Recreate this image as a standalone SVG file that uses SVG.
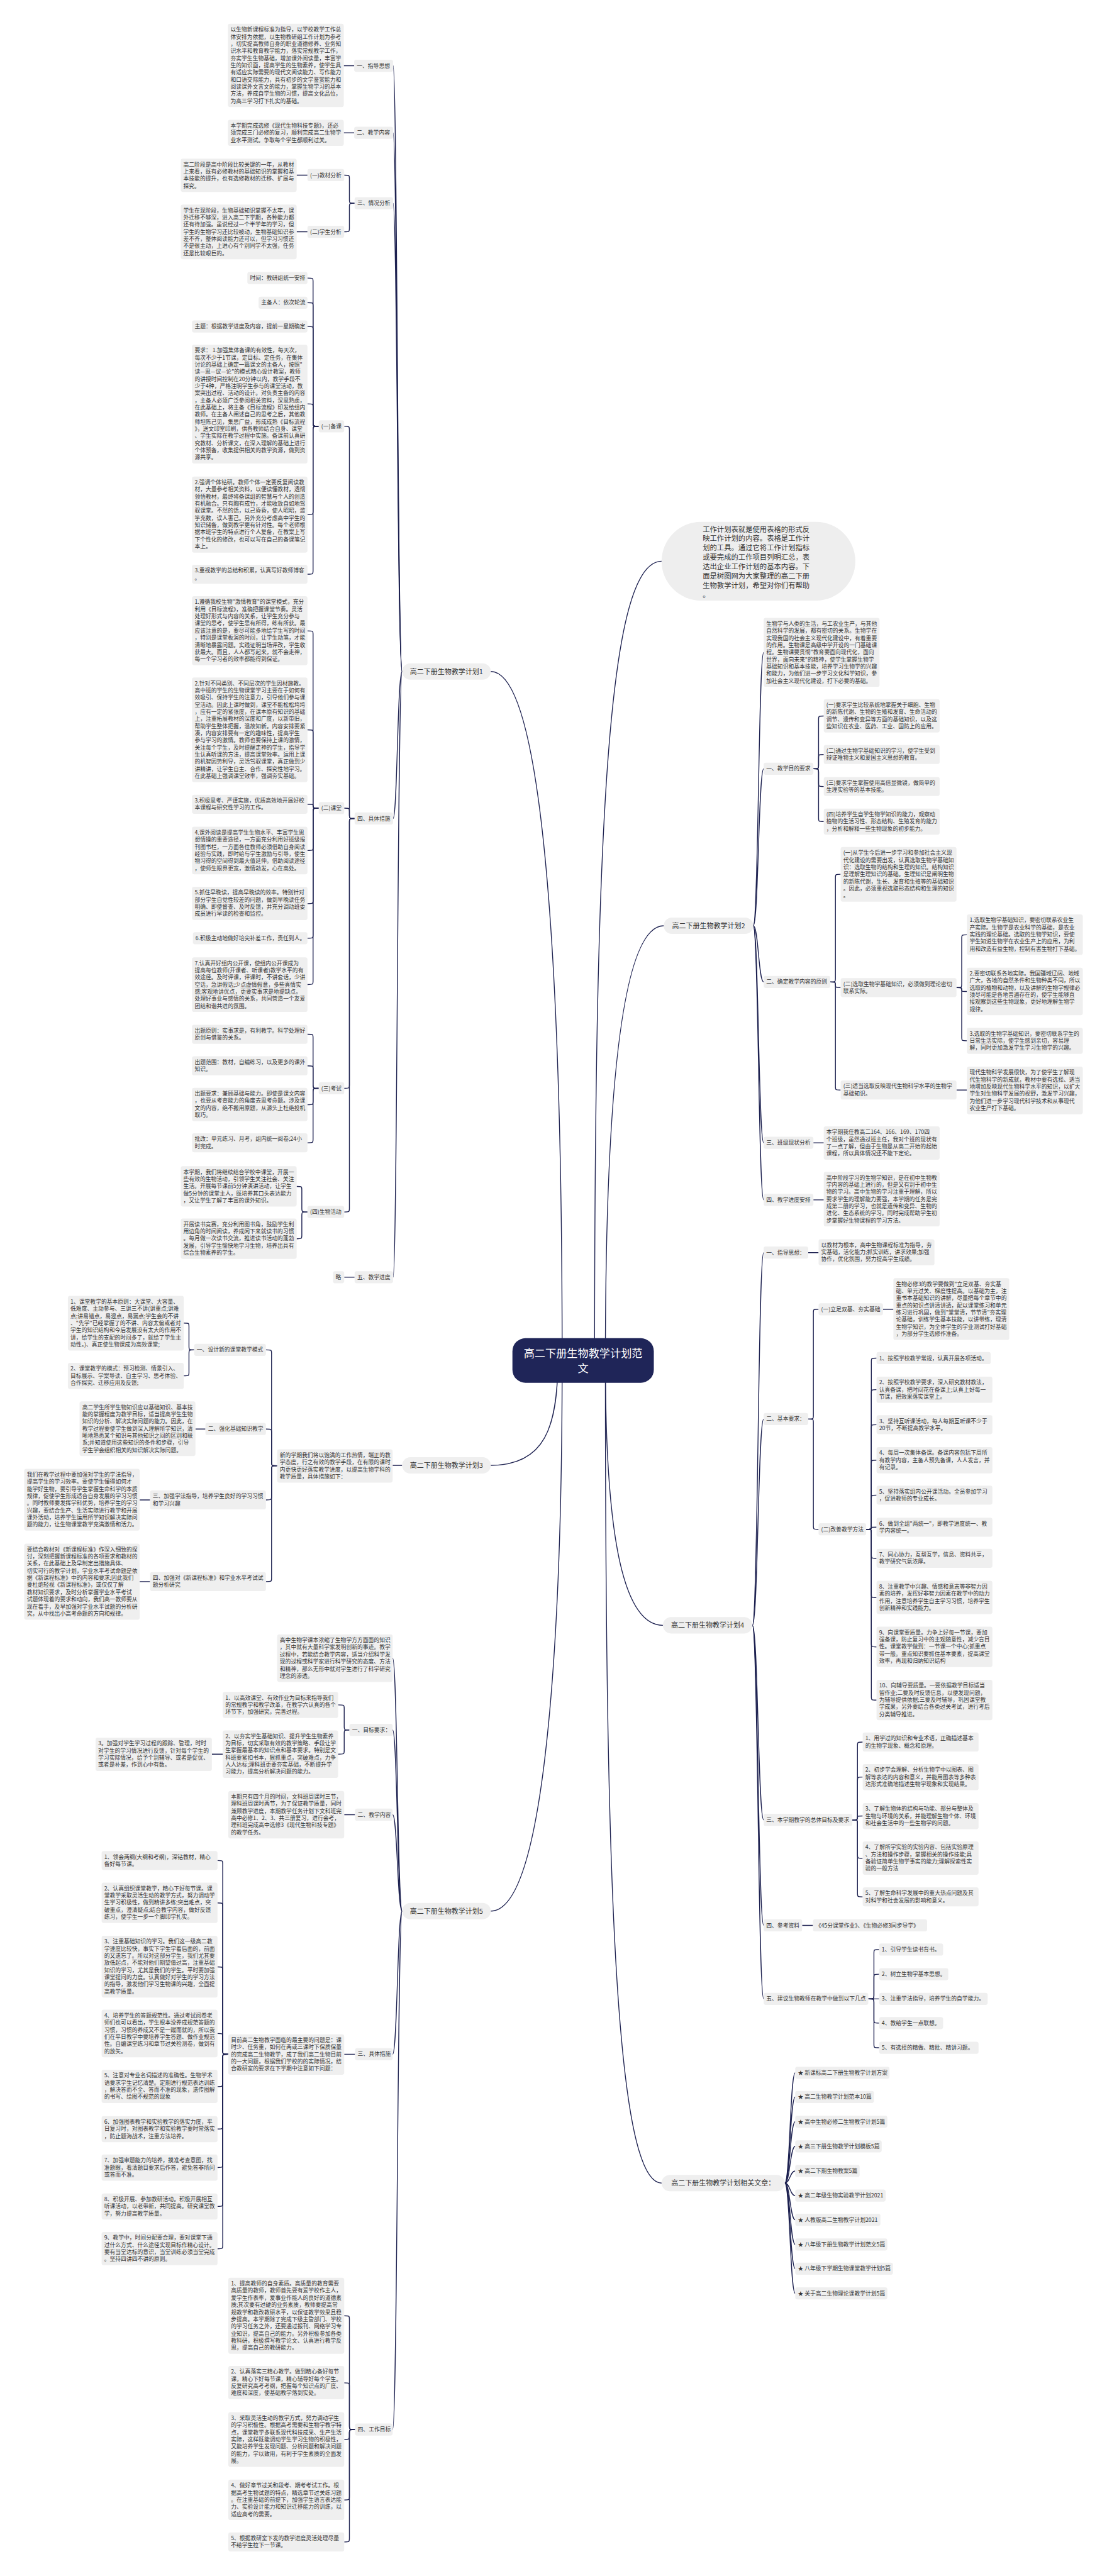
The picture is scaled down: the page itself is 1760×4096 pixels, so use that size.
<svg xmlns="http://www.w3.org/2000/svg" width="1760" height="4096" viewBox="0 0 1760 4096">
<style>
.c{fill:none;stroke:#1d2150;stroke-width:2}
.b{fill:#efefef}
.t{font-family:"Noto Sans CJK SC","Noto Sans",sans-serif;font-size:12.8px;fill:#333}
.bt{font-family:"Noto Sans CJK SC","Noto Sans",sans-serif;font-size:16px;fill:#333}
.it{font-family:"Noto Sans CJK SC","Noto Sans",sans-serif;font-size:16.5px;fill:#333}
.rt{font-family:"Noto Sans CJK SC","Noto Sans",sans-serif;font-size:25px;fill:#fff}
</style>
<rect width="1760" height="4096" fill="#fff"/>
<g transform="scale(0.6875)">
<g id="connectors">
<path class="c" d="M1530 1298C1410 1298 1375 1850 1375 3146"/>
<path class="c" d="M1535 2141C1430 2141 1400 2600 1400 3146"/>
<path class="c" d="M1533 3759C1430 3759 1400 3500 1400 3146"/>
<path class="c" d="M1530 5049C1420 5049 1400 4300 1400 3146"/>
<path class="c" d="M1135 1553C1270 1553 1300 2400 1300 3146"/>
<path class="c" d="M1135 3389C1260 3389 1290 3300 1290 3146"/>
<path class="c" d="M1135 4420C1270 4420 1300 3700 1300 3146"/>
<path class="c" d="M930 1553C919 1553 919 152 909 152"/>
<path class="c" d="M930 1553C919 1553 919 307 909 307"/>
<path class="c" d="M930 1553C919 1553 919 470 909 470"/>
<path class="c" d="M930 1553C919 1553 919 1893 909 1893"/>
<path class="c" d="M930 1553C919 1553 919 2954 909 2954"/>
<path class="c" d="M819 152H795M819 307H795M711 405H686M711 536H686M820 2954H796"/>
<path class="c" d="M820 470C808 470 808 470 808 462V413C808 405 808 405 796 405"/>
<path class="c" d="M820 470C808 470 808 470 808 478V528C808 536 808 536 796 536"/>
<path class="c" d="M820 1893C808 1893 808 1893 808 1885V994C808 986 808 986 796 986"/>
<path class="c" d="M820 1893C808 1893 808 1893 808 1885V1877C808 1869 808 1869 796 1869"/>
<path class="c" d="M820 1893C808 1893 808 1893 808 1901V2509C808 2517 808 2517 796 2517"/>
<path class="c" d="M820 1893C808 1893 808 1893 808 1901V2795C808 2803 808 2803 796 2803"/>
<path class="c" d="M737 986C724 986 724 986 724 978V651C724 643 724 643 711 643"/>
<path class="c" d="M737 986C724 986 724 986 724 978V708C724 700 724 700 711 700"/>
<path class="c" d="M737 986C724 986 724 986 724 978V763C724 755 724 755 711 755"/>
<path class="c" d="M737 986C724 986 724 986 724 978V942C724 934 724 934 711 934"/>
<path class="c" d="M737 986C724 986 724 986 724 994V1182C724 1190 724 1190 711 1190"/>
<path class="c" d="M737 986C724 986 724 986 724 994V1320C724 1328 724 1328 711 1328"/>
<path class="c" d="M737 1869C724 1869 724 1869 724 1861V1467C724 1459 724 1459 711 1459"/>
<path class="c" d="M737 1869C724 1869 724 1869 724 1861V1696C724 1688 724 1688 711 1688"/>
<path class="c" d="M737 1869C724 1869 724 1869 724 1864.5C724 1860 724 1860 711 1860"/>
<path class="c" d="M737 1869C724 1869 724 1869 724 1877V1959C724 1967 724 1967 711 1967"/>
<path class="c" d="M737 1869C724 1869 724 1869 724 1877V2082C724 2090 724 2090 711 2090"/>
<path class="c" d="M737 1869C724 1869 724 1869 724 1877V2162C724 2170 724 2170 711 2170"/>
<path class="c" d="M737 1869C724 1869 724 1869 724 1877V2269C724 2277 724 2277 711 2277"/>
<path class="c" d="M737 2517C724 2517 724 2517 724 2509V2400C724 2392 724 2392 711 2392"/>
<path class="c" d="M737 2517C724 2517 724 2517 724 2509V2473C724 2465 724 2465 711 2465"/>
<path class="c" d="M737 2517C724 2517 724 2517 724 2525V2547C724 2555 724 2555 711 2555"/>
<path class="c" d="M737 2517C724 2517 724 2517 724 2525V2635C724 2643 724 2643 711 2643"/>
<path class="c" d="M711 2803C698 2803 698 2803 698 2795V2752C698 2744 698 2744 686 2744"/>
<path class="c" d="M711 2803C698 2803 698 2803 698 2811V2857C698 2865 698 2865 686 2865"/>
<path class="c" d="M930 3389H908M475 3305H452M347 3469H323M347 3658H323"/>
<path class="c" d="M641 3390C628 3390 628 3390 628 3382V3130C628 3122 628 3122 615 3122"/>
<path class="c" d="M641 3390C628 3390 628 3390 628 3382V3313C628 3305 628 3305 615 3305"/>
<path class="c" d="M641 3390C628 3390 628 3390 628 3398V3461C628 3469 628 3469 615 3469"/>
<path class="c" d="M641 3390C628 3390 628 3390 628 3398V3650C628 3658 628 3658 615 3658"/>
<path class="c" d="M449 3122C437 3122 437 3122 437 3114V3068C437 3060 437 3060 425 3060"/>
<path class="c" d="M449 3122C437 3122 437 3122 437 3130V3174C437 3182 437 3182 425 3182"/>
<path class="c" d="M930 4420C919 4420 919 3835 908 3835"/>
<path class="c" d="M930 4420C919 4420 919 4001 908 4001"/>
<path class="c" d="M930 4420C919 4420 919 4197 908 4197"/>
<path class="c" d="M930 4420C919 4420 919 4751 908 4751"/>
<path class="c" d="M930 4420C919 4420 919 5619 908 5619"/>
<path class="c" d="M808 4001C796 4001 796 4001 796 3993V3951C796 3943 796 3943 782 3943"/>
<path class="c" d="M808 4001C796 4001 796 4001 796 4009V4049C796 4057 796 4057 782 4057"/>
<path class="c" d="M515 4057H490M821 4197H796M821 4751H796"/>
<path class="c" d="M528 4751C515 4751 515 4751 515 4743V4311C515 4303 515 4303 503 4303"/>
<path class="c" d="M528 4751C515 4751 515 4751 515 4743V4409C515 4401 515 4401 503 4401"/>
<path class="c" d="M528 4751C515 4751 515 4751 515 4743V4557C515 4549 515 4549 503 4549"/>
<path class="c" d="M528 4751C515 4751 515 4751 515 4743V4711C515 4703 515 4703 503 4703"/>
<path class="c" d="M528 4751C515 4751 515 4751 515 4759V4818C515 4826 515 4826 503 4826"/>
<path class="c" d="M528 4751C515 4751 515 4751 515 4759V4916C515 4924 515 4924 503 4924"/>
<path class="c" d="M528 4751C515 4751 515 4751 515 4759V5005C515 5013 515 5013 503 5013"/>
<path class="c" d="M528 4751C515 4751 515 4751 515 4759V5095C515 5103 515 5103 503 5103"/>
<path class="c" d="M528 4751C515 4751 515 4751 515 4759V5193C515 5201 515 5201 503 5201"/>
<path class="c" d="M821 5619C808 5619 808 5619 808 5611V5364C808 5356 808 5356 796 5356"/>
<path class="c" d="M821 5619C808 5619 808 5619 808 5611V5519C808 5511 808 5511 796 5511"/>
<path class="c" d="M821 5619C808 5619 808 5619 808 5627V5634C808 5642 808 5642 796 5642"/>
<path class="c" d="M821 5619C808 5619 808 5619 808 5627V5774C808 5782 808 5782 796 5782"/>
<path class="c" d="M821 5619C808 5619 808 5619 808 5627V5871C808 5879 808 5879 796 5879"/>
<path class="c" d="M1742 2141C1754 2141 1754 1509 1766 1509"/>
<path class="c" d="M1742 2141C1754 2141 1754 1778 1766 1778"/>
<path class="c" d="M1742 2141C1754 2141 1754 2271 1766 2271"/>
<path class="c" d="M1742 2141C1754 2141 1754 2643 1766 2643"/>
<path class="c" d="M1742 2141C1754 2141 1754 2775 1766 2775"/>
<path class="c" d="M1881 1778C1893 1778 1893 1778 1893 1770V1664C1893 1656 1893 1656 1905 1656"/>
<path class="c" d="M1881 1778C1893 1778 1893 1778 1893 1770V1753C1893 1745 1893 1745 1905 1745"/>
<path class="c" d="M1881 1778C1893 1778 1893 1778 1893 1786V1811C1893 1819 1893 1819 1905 1819"/>
<path class="c" d="M1881 1778C1893 1778 1893 1778 1893 1786V1892C1893 1900 1893 1900 1905 1900"/>
<path class="c" d="M1920 2271C1932 2271 1932 2271 1932 2263V2030C1932 2022 1932 2022 1944 2022"/>
<path class="c" d="M1920 2271C1932 2271 1932 2271 1932 2277.5C1932 2284 1932 2284 1944 2284"/>
<path class="c" d="M1920 2271C1932 2271 1932 2271 1932 2279V2513C1932 2521 1932 2521 1944 2521"/>
<path class="c" d="M2212 2284C2224 2284 2224 2284 2224 2276V2170C2224 2162 2224 2162 2236 2162"/>
<path class="c" d="M2212 2284C2224 2284 2224 2284 2224 2288.5C2224 2293 2224 2293 2236 2293"/>
<path class="c" d="M2212 2284C2224 2284 2224 2284 2224 2292V2399C2224 2407 2224 2407 2236 2407"/>
<path class="c" d="M2212 2521H2236M1881 2643H1905M1881 2775H1905"/>
<path class="c" d="M1740 3759C1753 3759 1753 2897 1766 2897"/>
<path class="c" d="M1740 3759C1753 3759 1753 3282 1766 3282"/>
<path class="c" d="M1740 3759C1753 3759 1753 4209 1766 4209"/>
<path class="c" d="M1740 3759C1753 3759 1753 4453 1766 4453"/>
<path class="c" d="M1740 3759C1753 3759 1753 4623 1766 4623"/>
<path class="c" d="M1869 2897H1893M2042 3028H2066M1855 4453H1880M2008 4623H2033"/>
<path class="c" d="M1869 3282C1881 3282 1881 3282 1881 3274V3036C1881 3028 1881 3028 1893 3028"/>
<path class="c" d="M1869 3282C1881 3282 1881 3282 1881 3290V3529C1881 3537 1881 3537 1893 3537"/>
<path class="c" d="M2003 3537C2015 3537 2015 3537 2015 3529V3149C2015 3141 2015 3141 2027 3141"/>
<path class="c" d="M2003 3537C2015 3537 2015 3537 2015 3529V3222C2015 3214 2015 3214 2027 3214"/>
<path class="c" d="M2003 3537C2015 3537 2015 3537 2015 3529V3303C2015 3295 2015 3295 2027 3295"/>
<path class="c" d="M2003 3537C2015 3537 2015 3537 2015 3529V3385C2015 3377 2015 3377 2027 3377"/>
<path class="c" d="M2003 3537C2015 3537 2015 3537 2015 3529V3466C2015 3458 2015 3458 2027 3458"/>
<path class="c" d="M2003 3537C2015 3537 2015 3537 2015 3534.5C2015 3532 2015 3532 2027 3532"/>
<path class="c" d="M2003 3537C2015 3537 2015 3537 2015 3545V3596C2015 3604 2015 3604 2027 3604"/>
<path class="c" d="M2003 3537C2015 3537 2015 3537 2015 3545V3687C2015 3695 2015 3695 2027 3695"/>
<path class="c" d="M2003 3537C2015 3537 2015 3537 2015 3545V3801C2015 3809 2015 3809 2027 3809"/>
<path class="c" d="M2003 3537C2015 3537 2015 3537 2015 3545V3924C2015 3932 2015 3932 2027 3932"/>
<path class="c" d="M1971 4209C1983 4209 1983 4209 1983 4201V4037C1983 4029 1983 4029 1995 4029"/>
<path class="c" d="M1971 4209C1983 4209 1983 4209 1983 4201V4118C1983 4110 1983 4110 1995 4110"/>
<path class="c" d="M1971 4209C1983 4209 1983 4209 1983 4204.5C1983 4200 1983 4200 1995 4200"/>
<path class="c" d="M1971 4209C1983 4209 1983 4209 1983 4217V4290C1983 4298 1983 4298 1995 4298"/>
<path class="c" d="M1971 4209C1983 4209 1983 4209 1983 4217V4379C1983 4387 1983 4387 1995 4387"/>
<path class="c" d="M2008 4623C2021 4623 2021 4623 2021 4615V4517C2021 4509 2021 4509 2033 4509"/>
<path class="c" d="M2008 4623C2021 4623 2021 4623 2021 4615V4574C2021 4566 2021 4566 2033 4566"/>
<path class="c" d="M2008 4623C2021 4623 2021 4623 2021 4631V4671C2021 4679 2021 4679 2033 4679"/>
<path class="c" d="M2008 4623C2021 4623 2021 4623 2021 4631V4728C2021 4736 2021 4736 2033 4736"/>
<path class="c" d="M1815 5049C1827 5049 1827 4794 1839 4794"/>
<path class="c" d="M1815 5049C1827 5049 1827 4850 1839 4850"/>
<path class="c" d="M1815 5049C1827 5049 1827 4907 1839 4907"/>
<path class="c" d="M1815 5049C1827 5049 1827 4964 1839 4964"/>
<path class="c" d="M1815 5049C1827 5049 1827 5021 1839 5021"/>
<path class="c" d="M1815 5049C1827 5049 1827 5078 1839 5078"/>
<path class="c" d="M1815 5049C1827 5049 1827 5134 1839 5134"/>
<path class="c" d="M1815 5049C1827 5049 1827 5191 1839 5191"/>
<path class="c" d="M1815 5049C1827 5049 1827 5247 1839 5247"/>
<path class="c" d="M1815 5049C1827 5049 1827 5304 1839 5304"/>
</g>

<g id="root"><rect x="1185" y="3095" width="327" height="103" rx="30" fill="#1f2558"/><text class="rt" x="1348.5" y="3139" text-anchor="middle">高二下册生物教学计划范</text><text class="rt" x="1348.5" y="3174" text-anchor="middle">文</text></g>

<g id="intro"><rect x="1530" y="1207" width="448" height="182" rx="91" fill="#eeeeee"/><text class="it" x="1625" y="1230">工作计划表就是使用表格的形式反<tspan x="1625" dy="21.6">映工作计划的内容。表格是工作计</tspan><tspan x="1625" dy="21.6">划的工具。通过它将工作计划指标</tspan><tspan x="1625" dy="21.6">或要完成的工作项目列明汇总，表</tspan><tspan x="1625" dy="21.6">达出企业工作计划的基本内容。下</tspan><tspan x="1625" dy="21.6">面是树图网为大家整理的高二下册</tspan><tspan x="1625" dy="21.6">生物教学计划，希望对你们有帮助</tspan><tspan x="1625" dy="21.6">。</tspan></text></g>

<!-- Branch 1 -->
<g id="b1"><rect class="b" x="930" y="1534" width="205" height="38" rx="19"/><text class="bt" x="1032.5" y="1559" text-anchor="middle">高二下册生物教学计划1</text></g>
<g id="b1-1"><rect class="b" x="819" y="138" width="90" height="28" rx="5"/><text class="t" x="825" y="156.5">一、指导思想</text></g>
<g id="b1-1-t"><rect class="b" x="527" y="55" width="268" height="192.5" rx="5"/><text class="t" x="533" y="73">以生物新课程标准为指导，以学校教学工作总<tspan x="533" dy="16.5">体安排为依据，以生物教研组工作计划为参考</tspan><tspan x="533" dy="16.5">，切实提高教师自身的职业道德修养、业务知</tspan><tspan x="533" dy="16.5">识水平和教育教学能力，落实常规教学工作，</tspan><tspan x="533" dy="16.5">夯实学生生物基础，增加课外阅读量，丰富学</tspan><tspan x="533" dy="16.5">生的知识面，提高学生的生物素养，使学生具</tspan><tspan x="533" dy="16.5">有适应实际需要的现代文阅读能力、写作能力</tspan><tspan x="533" dy="16.5">和口语交际能力，具有初步的文学鉴赏能力和</tspan><tspan x="533" dy="16.5">阅读课外文言文的能力，掌握生物学习的基本</tspan><tspan x="533" dy="16.5">方法，养成自学生物的习惯，提高文化品位，</tspan><tspan x="533" dy="16.5">为高三学习打下扎实的基础。</tspan></text></g>
<g id="b1-2"><rect class="b" x="819" y="293" width="90" height="28" rx="5"/><text class="t" x="825" y="311.5">二、教学内容</text></g>
<g id="b1-2-t"><rect class="b" x="527" y="277" width="268" height="60.5" rx="5"/><text class="t" x="533" y="295">本学期完成选修《现代生物科技专题》，还必<tspan x="533" dy="16.5">须完成三门必修的复习，顺利完成高二生物学</tspan><tspan x="533" dy="16.5">业水平测试。争取每个学生都顺利过关。</tspan></text></g>
<g id="b1-3"><rect class="b" x="820" y="456" width="89" height="28" rx="5"/><text class="t" x="826" y="474.5">三、情况分析</text></g>
<g id="b1-3a"><rect class="b" x="711" y="391" width="85" height="28" rx="5"/><text class="t" x="717" y="409.5">(一)教材分析</text></g>
<g id="b1-3b"><rect class="b" x="711" y="522" width="85" height="28" rx="5"/><text class="t" x="717" y="540.5">(二)学生分析</text></g>
<g id="b1-3a-t"><rect class="b" x="418" y="367" width="268" height="77" rx="5"/><text class="t" x="424" y="385">高二阶段是高中阶段比较关键的一年，从教材<tspan x="424" dy="16.5">上来看，既有必修教材的基础知识的掌握和基</tspan><tspan x="424" dy="16.5">本技能的提升，也有选修教材的迁移、扩展与</tspan><tspan x="424" dy="16.5">探究。</tspan></text></g>
<g id="b1-3b-t"><rect class="b" x="418" y="473" width="268" height="126.5" rx="5"/><text class="t" x="424" y="491">学生在现阶段，生物基础知识掌握不太牢，课<tspan x="424" dy="16.5">外迁移不够深，进入高二下学期，各种能力都</tspan><tspan x="424" dy="16.5">还有待加强。虽说经过一个半学年的学习，但</tspan><tspan x="424" dy="16.5">学生的生物学习还比较被动，生物基础知识参</tspan><tspan x="424" dy="16.5">差不齐，整体阅读能力还可以，但学习习惯还</tspan><tspan x="424" dy="16.5">不是很主动，上进心有个别同学不太强，任务</tspan><tspan x="424" dy="16.5">还是比较艰巨的。</tspan></text></g>
<g id="b1-4"><rect class="b" x="820" y="1879" width="89" height="28" rx="5"/><text class="t" x="826" y="1897.5">四、具体措施</text></g>
<g id="b1-4a"><rect class="b" x="737" y="972" width="59" height="28" rx="5"/><text class="t" x="743" y="990.5">(一)备课</text></g>
<g id="b1-4a1"><rect class="b" x="572" y="629" width="139" height="28" rx="5"/><text class="t" x="578" y="647.5">时间：教研组统一安排</text></g>
<g id="b1-4a2"><rect class="b" x="598" y="686" width="113" height="28" rx="5"/><text class="t" x="604" y="704.5">主备人：依次轮流</text></g>
<g id="b1-4a3"><rect class="b" x="444" y="741" width="267" height="28" rx="5"/><text class="t" x="450" y="759.5">主题：根据教学进度及内容，提前一星期确定</text></g>
<g id="b1-4a4"><rect class="b" x="444" y="797" width="267" height="275" rx="5"/><text class="t" x="450" y="815">要求： 1.加强集体备课的有效性，每天次，<tspan x="450" dy="16.5">每次不少于1节课，定目标、定任务，在集体</tspan><tspan x="450" dy="16.5">讨论的基础上确定一篇课文的主备人，按照"</tspan><tspan x="450" dy="16.5">读—思—议—论"的模式精心设计教案，教师</tspan><tspan x="450" dy="16.5">的讲授时间控制在20分钟以内，教学手段不</tspan><tspan x="450" dy="16.5">少于4种，严格注明学生参与的课堂活动，教</tspan><tspan x="450" dy="16.5">案突出过程、活动的设计。对负责主备的内容</tspan><tspan x="450" dy="16.5">，主备人必须广泛参阅相关资料，深思熟虑，</tspan><tspan x="450" dy="16.5">在此基础上，将主备《目标流程》印发给组内</tspan><tspan x="450" dy="16.5">教师。在主备人阐述自己的思考之后，其他教</tspan><tspan x="450" dy="16.5">师坦陈己见，集思广益，形成成熟《目标流程</tspan><tspan x="450" dy="16.5">》，送文印室印刷，供各教师结合自身、课堂</tspan><tspan x="450" dy="16.5">、学生实际在教学过程中实施。备课前认真研</tspan><tspan x="450" dy="16.5">究教材、分析课文，在深入理解的基础上进行</tspan><tspan x="450" dy="16.5">个体预备，收集提供相关的教学资源，做到资</tspan><tspan x="450" dy="16.5">源共享。</tspan></text></g>
<g id="b1-4a5"><rect class="b" x="444" y="1102" width="267" height="176" rx="5"/><text class="t" x="450" y="1120">2.强调个体钻研。教师个体一定要反复阅读教<tspan x="450" dy="16.5">材，大量参考相关资料，以便读懂教材，透彻</tspan><tspan x="450" dy="16.5">领悟教材，最终将备课组的智慧与个人的创造</tspan><tspan x="450" dy="16.5">有机融合。只有胸有成竹，才能收放自如地驾</tspan><tspan x="450" dy="16.5">驭课堂。不然的话，以己昏昏，使人昭昭，滥</tspan><tspan x="450" dy="16.5">竽充数，误人害己。另外充分考虑高中学生的</tspan><tspan x="450" dy="16.5">知识储备，做到教学更有针对性。每个老师根</tspan><tspan x="450" dy="16.5">据本班学生的特点进行个人复备，在教案上写</tspan><tspan x="450" dy="16.5">下个性化的修改，也可以写在自己的备课笔记</tspan><tspan x="450" dy="16.5">本上。</tspan></text></g>
<g id="b1-4a6"><rect class="b" x="444" y="1306" width="267" height="44" rx="5"/><text class="t" x="450" y="1324">3.重视教学的总结和积累，认真写好教师博客<tspan x="450" dy="16.5">。</tspan></text></g>
<g id="b1-4b"><rect class="b" x="737" y="1855" width="59" height="28" rx="5"/><text class="t" x="743" y="1873.5">(二)课堂</text></g>
<g id="b1-4b1"><rect class="b" x="444" y="1379" width="267" height="159.5" rx="5"/><text class="t" x="450" y="1397">1.遵循我校生物"激情教育"的课堂模式，充分<tspan x="450" dy="16.5">利用《目标流程》，准确把握课堂节奏。灵活</tspan><tspan x="450" dy="16.5">处理好形式与内容的关系，让学生充分参与</tspan><tspan x="450" dy="16.5">课堂的思考，使学生思有所得，练有所获。最</tspan><tspan x="450" dy="16.5">应该注意的是，要尽可能多地给学生写的时间</tspan><tspan x="450" dy="16.5">，特别是课堂板演的时间，让学生动笔，才能</tspan><tspan x="450" dy="16.5">清晰地暴露问题。实践证明当场评改，学生收</tspan><tspan x="450" dy="16.5">获最大。而且，人人都写起来，就不会走神，</tspan><tspan x="450" dy="16.5">每一个学习者的效率都能得到保证。</tspan></text></g>
<g id="b1-4b2"><rect class="b" x="444" y="1567" width="267" height="242" rx="5"/><text class="t" x="450" y="1585">2.针对不同类别、不同层次的学生因材施教。<tspan x="450" dy="16.5">高中班的学生的生物课堂学习主要在于如何有</tspan><tspan x="450" dy="16.5">效吸引、保持学生的注意力，引导他们参与课</tspan><tspan x="450" dy="16.5">堂活动。因此上课时做到，课堂不能松松垮垮</tspan><tspan x="450" dy="16.5">，应有一定的紧张度，在课本原有知识的基础</tspan><tspan x="450" dy="16.5">上，注重拓展教材的深度和广度，以新带旧，</tspan><tspan x="450" dy="16.5">帮助学生整体把握，温故知新。内容安排要紧</tspan><tspan x="450" dy="16.5">凑，内容安排要有一定的趣味性，提高学生</tspan><tspan x="450" dy="16.5">参与学习的激情。教师也要保持上课的激情，</tspan><tspan x="450" dy="16.5">关注每个学生，及时提醒走神的学生，指导学</tspan><tspan x="450" dy="16.5">生认真听课的方法，提高课堂效率。运用上课</tspan><tspan x="450" dy="16.5">的机智因势利导，灵活驾驭课堂，真正做到少</tspan><tspan x="450" dy="16.5">讲精讲，让学生自主、合作、探究性地学习。</tspan><tspan x="450" dy="16.5">在此基础上强调课堂效率，强调夯实基础。</tspan></text></g>
<g id="b1-4b3"><rect class="b" x="444" y="1838" width="267" height="44" rx="5"/><text class="t" x="450" y="1856">3.积极思考、严谨实施，优质高效地开展好校<tspan x="450" dy="16.5">本课程与研究性学习的工作。</tspan></text></g>
<g id="b1-4b4"><rect class="b" x="444" y="1912" width="267" height="110" rx="5"/><text class="t" x="450" y="1930">4.课外阅读是提高学生生物水平、丰富学生思<tspan x="450" dy="16.5">想情操的重要途径，一方面充分利用好班级报</tspan><tspan x="450" dy="16.5">刊图书栏，一方面各位教师必须借助自身阅读</tspan><tspan x="450" dy="16.5">经验与实践，即时给与学生激励与引导，使生</tspan><tspan x="450" dy="16.5">物习得的空间得到最大值延伸。借助阅读途径</tspan><tspan x="450" dy="16.5">，使师生眼界更宽，激情勃发，心在高处。</tspan></text></g>
<g id="b1-4b5"><rect class="b" x="444" y="2051" width="267" height="77" rx="5"/><text class="t" x="450" y="2069">5.抓住早晚读，提高早晚读的效率。特别针对<tspan x="450" dy="16.5">部分学生自觉性较差的问题，做到早晚读任务</tspan><tspan x="450" dy="16.5">明确、即使督查、及时反馈，并充分调动班委</tspan><tspan x="450" dy="16.5">成员进行早读的检查和监控。</tspan></text></g>
<g id="b1-4b6"><rect class="b" x="446" y="2156" width="265" height="28" rx="5"/><text class="t" x="452" y="2174.5">6.积极主动地做好培尖补差工作，责任到人。</text></g>
<g id="b1-4b7"><rect class="b" x="444" y="2214" width="267" height="126.5" rx="5"/><text class="t" x="450" y="2232">7.认真开好组内公开课，使组内公开课成为<tspan x="450" dy="16.5">提高每位教师(开课者、听课者)教学水平的有</tspan><tspan x="450" dy="16.5">效途径。及时评课，评课时，不讲套话，少讲</tspan><tspan x="450" dy="16.5">空话，急讲假话;少点虚情假意，多些真情实</tspan><tspan x="450" dy="16.5">感;客观地讲优点，更要实事求是地提缺点。</tspan><tspan x="450" dy="16.5">处理好事业与感情的关系，共同营造一个友爱</tspan><tspan x="450" dy="16.5">团结和谐共进的氛围。</tspan></text></g>
<g id="b1-4c"><rect class="b" x="737" y="2503" width="59" height="28" rx="5"/><text class="t" x="743" y="2521.5">(三)考试</text></g>
<g id="b1-4c1"><rect class="b" x="444" y="2370" width="267" height="44" rx="5"/><text class="t" x="450" y="2388">出题原则：实事求是，有利教学。科学处理好<tspan x="450" dy="16.5">原创与借鉴的关系。</tspan></text></g>
<g id="b1-4c2"><rect class="b" x="444" y="2443" width="267" height="44" rx="5"/><text class="t" x="450" y="2461">出题范围：教材，自编练习，以及更多的课外<tspan x="450" dy="16.5">知识。</tspan></text></g>
<g id="b1-4c3"><rect class="b" x="444" y="2516" width="267" height="77" rx="5"/><text class="t" x="450" y="2534">出题要求：兼顾基础与能力。即使是课文内容<tspan x="450" dy="16.5">，也要从考查能力的角度去思考命题。涉及课</tspan><tspan x="450" dy="16.5">文的内容，绝不搬用原题，从源头上杜绝投机</tspan><tspan x="450" dy="16.5">取巧。</tspan></text></g>
<g id="b1-4c4"><rect class="b" x="444" y="2621" width="267" height="44" rx="5"/><text class="t" x="450" y="2639">批改：单元练习、月考，组内统一阅卷;24小<tspan x="450" dy="16.5">时完成。</tspan></text></g>
<g id="b1-4d"><rect class="b" x="711" y="2789" width="85" height="28" rx="5"/><text class="t" x="717" y="2807.5">(四)生物活动</text></g>
<g id="b1-4d1"><rect class="b" x="418" y="2697" width="268" height="93.5" rx="5"/><text class="t" x="424" y="2715">本学期，我们将继续结合学校中课堂，开展一<tspan x="424" dy="16.5">些有效的生物活动，引领学生关注社会、关注</tspan><tspan x="424" dy="16.5">生活。开展每节课前5分钟演讲活动，让学生</tspan><tspan x="424" dy="16.5">做5分钟的课堂主人，既培养其口头表达能力</tspan><tspan x="424" dy="16.5">，又让学生了解了丰富的课外知识。</tspan></text></g>
<g id="b1-4d2"><rect class="b" x="418" y="2818" width="268" height="93.5" rx="5"/><text class="t" x="424" y="2836">开展读书竞赛，充分利用图书角，鼓励学生利<tspan x="424" dy="16.5">用边角的时间阅读，养成闲下来就读书的习惯</tspan><tspan x="424" dy="16.5">。每月做一次读书交流，推进读书活动的蓬勃</tspan><tspan x="424" dy="16.5">发展，引导学生愉快地学习生物，培养出具有</tspan><tspan x="424" dy="16.5">综合生物素养的学生。</tspan></text></g>
<g id="b1-5"><rect class="b" x="820" y="2940" width="89" height="28" rx="5"/><text class="t" x="826" y="2958.5">五、教学进度</text></g>
<g id="b1-5a"><rect class="b" x="770" y="2940" width="26" height="28" rx="5"/><text class="t" x="776" y="2958.5">略</text></g>

<!-- Branch 3 -->
<g id="b3"><rect class="b" x="930" y="3370" width="205" height="38" rx="19"/><text class="bt" x="1032.5" y="3395" text-anchor="middle">高二下册生物教学计划3</text></g>
<g id="b3-0"><rect class="b" x="641" y="3352" width="267" height="77" rx="5"/><text class="t" x="647" y="3370">新的学期我们将以饱满的工作热情，端正的教<tspan x="647" dy="16.5">学态度，行之有效的教学手段，在有限的课时</tspan><tspan x="647" dy="16.5">内更快更好落实教学进度，以提高生物学科的</tspan><tspan x="647" dy="16.5">教学质量，具体措施如下：</tspan></text></g>
<g id="b3-1"><rect class="b" x="449" y="3108" width="166" height="28" rx="5"/><text class="t" x="455" y="3126.5">一、设计新的课堂教学模式</text></g>
<g id="b3-1a"><rect class="b" x="157" y="2997" width="268" height="126.5" rx="5"/><text class="t" x="163" y="3015">1、课堂教学的基本原则：大课堂、大容量、<tspan x="163" dy="16.5">低难度、主动参与、三讲三不讲(讲重点;讲难</tspan><tspan x="163" dy="16.5">点;讲易错点，易混点，易漏点;学生会的不讲</tspan><tspan x="163" dy="16.5">、"先学"已经掌握了的不讲、内容太偏或者对</tspan><tspan x="163" dy="16.5">学生的知识结构和今后发展没有太大的作用不</tspan><tspan x="163" dy="16.5">讲，给学生的支配的时间多了，就给了学生主</tspan><tspan x="163" dy="16.5">动性。)、真正使生物课成为高效课堂;</tspan></text></g>
<g id="b3-1b"><rect class="b" x="157" y="3152" width="268" height="60.5" rx="5"/><text class="t" x="163" y="3170">2、课堂教学的模式：预习检测、情景引入、<tspan x="163" dy="16.5">目标展示、学案导读、自主学习、思考体验、</tspan><tspan x="163" dy="16.5">合作探究、迁移应用及反馈;</tspan></text></g>
<g id="b3-2"><rect class="b" x="475" y="3291" width="140" height="28" rx="5"/><text class="t" x="481" y="3309.5">二、强化基础知识教学</text></g>
<g id="b3-2a"><rect class="b" x="184" y="3241" width="268" height="126.5" rx="5"/><text class="t" x="190" y="3259">高二学生所学生物知识应以基础知识、基本技<tspan x="190" dy="16.5">能的掌握程度为教学目标，适当提高学生生物</tspan><tspan x="190" dy="16.5">知识的分析、解决实际问题的能力。因此，在</tspan><tspan x="190" dy="16.5">教学过程要使学生做到深入理解所学知识，清</tspan><tspan x="190" dy="16.5">晰地熟悉某个知识与其他知识之间的区别和联</tspan><tspan x="190" dy="16.5">系;并知道使用这些知识的条件和步骤，引导</tspan><tspan x="190" dy="16.5">学生学会组织相关的知识解决实际问题。</tspan></text></g>
<g id="b3-3"><rect class="b" x="347" y="3447" width="268" height="44" rx="5"/><text class="t" x="353" y="3465">三、加强学法指导，培养学生良好的学习习惯<tspan x="353" dy="16.5">和学习兴趣</tspan></text></g>
<g id="b3-3a"><rect class="b" x="56" y="3397" width="267" height="143" rx="5"/><text class="t" x="62" y="3415">我们在教学过程中要加强对学生的学法指导，<tspan x="62" dy="16.5">提高学生的学习效率。要使学生懂得如何才</tspan><tspan x="62" dy="16.5">能学好生物，要引导学生掌握生命科学的本质</tspan><tspan x="62" dy="16.5">规律，促使学生形成适合自身发展的学习习惯</tspan><tspan x="62" dy="16.5">。同时教师要发挥学科优势，培养学生的学习</tspan><tspan x="62" dy="16.5">兴趣，要结合生产、生活实际进行教学和开展</tspan><tspan x="62" dy="16.5">课外活动，培养学生运用所学知识解决实际问</tspan><tspan x="62" dy="16.5">题的能力，让生物课堂教学充满激情和活力。</tspan></text></g>
<g id="b3-4"><rect class="b" x="347" y="3636" width="268" height="44" rx="5"/><text class="t" x="353" y="3654">四、加强对《新课程标准》和学业水平考试试<tspan x="353" dy="16.5">题分析研究</tspan></text></g>
<g id="b3-4a"><rect class="b" x="56" y="3570" width="267" height="176" rx="5"/><text class="t" x="62" y="3588">要结合教材对《新课程标准》作深入细致的探<tspan x="62" dy="16.5">讨，深刻把握新课程标准的各项要求和教材的</tspan><tspan x="62" dy="16.5">关系，在此基础上及早制定出措施具体、</tspan><tspan x="62" dy="16.5">切实可行的教学计划，学业水平考试命题是依</tspan><tspan x="62" dy="16.5">据《新课程标准》中的内容和要求;因此我们</tspan><tspan x="62" dy="16.5">要杜绝轻视《新课程标准》，或仅仅了解</tspan><tspan x="62" dy="16.5">教材知识要求，及时分析掌握学业水平考试</tspan><tspan x="62" dy="16.5">试题体现着的要求和动向，我们高一教师要从</tspan><tspan x="62" dy="16.5">现在着手，及早加强对学业水平试题的分析研</tspan><tspan x="62" dy="16.5">究，从中找出小高考命题的方向和规律。</tspan></text></g>

<!-- Branch 5 -->
<g id="b5"><rect class="b" x="930" y="4401" width="205" height="38" rx="19"/><text class="bt" x="1032.5" y="4426" text-anchor="middle">高二下册生物教学计划5</text></g>
<g id="b5-0"><rect class="b" x="641" y="3780" width="267" height="110" rx="5"/><text class="t" x="647" y="3798">高中生物学课本浓缩了生物学方方面面的知识<tspan x="647" dy="16.5">，其中就有大量科学家发明创新的事迹。教学</tspan><tspan x="647" dy="16.5">过程中，若能结合教学内容，适当介绍科学发</tspan><tspan x="647" dy="16.5">现的过程或科学家进行科学研究的态度、方法</tspan><tspan x="647" dy="16.5">和精神，那么无形中就对学生进行了科学研究</tspan><tspan x="647" dy="16.5">理念的渗透。</tspan></text></g>
<g id="b5-1"><rect class="b" x="808" y="3987" width="100" height="28" rx="5"/><text class="t" x="814" y="4005.5">一、目标要求：</text></g>
<g id="b5-1a"><rect class="b" x="515" y="3913" width="267" height="60.5" rx="5"/><text class="t" x="521" y="3931">1、以高效课堂、有效作业为目标来指导我们<tspan x="521" dy="16.5">的常规教学和教学改革，在教学六认真的各个</tspan><tspan x="521" dy="16.5">环节下，加强研究，完善过程。</tspan></text></g>
<g id="b5-1b"><rect class="b" x="515" y="4002" width="267" height="110" rx="5"/><text class="t" x="521" y="4020">2、以夯实学生基础知识、提升学生生物素养<tspan x="521" dy="16.5">为目标，切实采取有效的教学策略、手段让学</tspan><tspan x="521" dy="16.5">生掌握最基本的知识点和基本要求。特别是文</tspan><tspan x="521" dy="16.5">科班要紧扣书本，狠抓重点，突破难点，力争</tspan><tspan x="521" dy="16.5">人人达标;理科班更要夯实基础，不断提升学</tspan><tspan x="521" dy="16.5">习能力，提高分析解决问题的能力。</tspan></text></g>
<g id="b5-1c"><rect class="b" x="221" y="4019" width="269" height="77" rx="5"/><text class="t" x="227" y="4037">3。加强对学生学习过程的跟踪、管理，时时<tspan x="227" dy="16.5">对学生的学习情况进行反馈，针对每个学生的</tspan><tspan x="227" dy="16.5">学习实际情况，给予个别辅导、或者是促优、</tspan><tspan x="227" dy="16.5">或者是补差，作到心中有数。</tspan></text></g>
<g id="b5-2"><rect class="b" x="821" y="4183" width="87" height="28" rx="5"/><text class="t" x="827" y="4201.5">二、教学内容</text></g>
<g id="b5-2a"><rect class="b" x="528" y="4142" width="268" height="110" rx="5"/><text class="t" x="534" y="4160">本期只有四个月的时间，文科班周课时三节，<tspan x="534" dy="16.5">理科班周课时两节，为了保证教学质量，同时</tspan><tspan x="534" dy="16.5">兼顾教学进度，本期教学任务计划下文科班完</tspan><tspan x="534" dy="16.5">高中必修1、2、3、共三册复习，进行会考，</tspan><tspan x="534" dy="16.5">理科班完成高中选修3《现代生物科技专题》</tspan><tspan x="534" dy="16.5">的教学任务。</tspan></text></g>
<g id="b5-3"><rect class="b" x="821" y="4737" width="87" height="28" rx="5"/><text class="t" x="827" y="4755.5">三、具体措施</text></g>
<g id="b5-3a"><rect class="b" x="528" y="4705" width="268" height="93.5" rx="5"/><text class="t" x="534" y="4723">目前高二生物教学面临的最主要的问题是：课<tspan x="534" dy="16.5">时少、任务重，如何在两或三课时下保质保量</tspan><tspan x="534" dy="16.5">的完成高二生物教学，成了我们高二生物目前</tspan><tspan x="534" dy="16.5">的一大问题，根据我们学校的的实际情况，结</tspan><tspan x="534" dy="16.5">合教研室的要求在下学期中注意如下问题：</tspan></text></g>
<g id="b5-3a1"><rect class="b" x="235" y="4281" width="268" height="44" rx="5"/><text class="t" x="241" y="4299">1、领会两纲(大纲和考纲)，深钻教材，精心<tspan x="241" dy="16.5">备好每节课。</tspan></text></g>
<g id="b5-3a2"><rect class="b" x="235" y="4354" width="268" height="93.5" rx="5"/><text class="t" x="241" y="4372">2、认真组织课堂教学，精心下好每节课。课<tspan x="241" dy="16.5">堂教学采取灵活生动的教学方式，努力调动学</tspan><tspan x="241" dy="16.5">生学习积极性，做到精讲多练;突出难点，突</tspan><tspan x="241" dy="16.5">破重点，澄清疑点;结合教学内容，做好反馈</tspan><tspan x="241" dy="16.5">练习，使学生一步一个脚印学扎实。</tspan></text></g>
<g id="b5-3a3"><rect class="b" x="235" y="4477" width="268" height="143" rx="5"/><text class="t" x="241" y="4495">3、注重基础知识的学习。我们这一级高二教<tspan x="241" dy="16.5">学速度比较快，事实下学生学着后面的，前面</tspan><tspan x="241" dy="16.5">的又遗忘了。所以对这部分学生，我们尤其要</tspan><tspan x="241" dy="16.5">放低起点，不能对他们期望值过高，注重基础</tspan><tspan x="241" dy="16.5">知识的学习，尤其是我们的学生。平时要加强</tspan><tspan x="241" dy="16.5">课堂提问的力度。认真做好对学生的学习方法</tspan><tspan x="241" dy="16.5">的指导，激发他们学习生物课的兴趣，全面提</tspan><tspan x="241" dy="16.5">高教学质量。</tspan></text></g>
<g id="b5-3a4"><rect class="b" x="235" y="4648" width="268" height="110" rx="5"/><text class="t" x="241" y="4666">4、培养学生的答题规范性。通过考试阅卷老<tspan x="241" dy="16.5">师们也可以看出，学生根本没养成规范答题的</tspan><tspan x="241" dy="16.5">习惯，习惯的养成又不是一蹴而就的，所以我</tspan><tspan x="241" dy="16.5">们在平日教学中要培养学生答题、做作业规范</tspan><tspan x="241" dy="16.5">性。自编课堂练习和章节过关检测卷，做到有</tspan><tspan x="241" dy="16.5">的放矢。</tspan></text></g>
<g id="b5-3a5"><rect class="b" x="235" y="4787" width="268" height="77" rx="5"/><text class="t" x="241" y="4805">5、注意对专业名词描述的准确性。生物学术<tspan x="241" dy="16.5">语要求学生记忆清楚。定期进行规范表达训练</tspan><tspan x="241" dy="16.5">，解决答而不全、答而不准的现象，遗传图解</tspan><tspan x="241" dy="16.5">的书写、绘图不规范的现象</tspan></text></g>
<g id="b5-3a6"><rect class="b" x="235" y="4894" width="268" height="60.5" rx="5"/><text class="t" x="241" y="4912">6、加强图表教学和实验教学的落实力度，平<tspan x="241" dy="16.5">日复习时，对图表教学和实验教学要时常落实</tspan><tspan x="241" dy="16.5">，防止题海战术，注重方法培养。</tspan></text></g>
<g id="b5-3a7"><rect class="b" x="235" y="4983" width="268" height="60.5" rx="5"/><text class="t" x="241" y="5001">7、加强审题能力的培养，摸准考查意图，找<tspan x="241" dy="16.5">准题眼，看清题目要求后作答，避免答非所问</tspan><tspan x="241" dy="16.5">或答而不准。</tspan></text></g>
<g id="b5-3a8"><rect class="b" x="235" y="5073" width="268" height="60.5" rx="5"/><text class="t" x="241" y="5091">8、积极开展、参加教研活动。积极开展相互<tspan x="241" dy="16.5">听课活动，以老带新，共同提高。研究课堂教</tspan><tspan x="241" dy="16.5">学，努力提高教学质量。</tspan></text></g>
<g id="b5-3a9"><rect class="b" x="235" y="5162" width="268" height="77" rx="5"/><text class="t" x="241" y="5180">9、教学中，时间分配要合理，要对课堂下通<tspan x="241" dy="16.5">过什么方式、什么途径实现目标作精心设计。</tspan><tspan x="241" dy="16.5">要有当堂达标的意识，当堂训练必须当堂完成</tspan><tspan x="241" dy="16.5">。坚持四讲四不讲的原则。</tspan></text></g>
<g id="b5-4"><rect class="b" x="821" y="5605" width="87" height="28" rx="5"/><text class="t" x="827" y="5623.5">四、工作目标</text></g>
<g id="b5-4a"><rect class="b" x="528" y="5268" width="268" height="176" rx="5"/><text class="t" x="534" y="5286">1、提高教师的自身素质。高质量的教育需要<tspan x="534" dy="16.5">高质量的教师，教师首先要有爱学校作主人，</tspan><tspan x="534" dy="16.5">爱学生作表率，爱事业作能人的良好的道德素</tspan><tspan x="534" dy="16.5">质;其次要有过硬的业务素质，教师要提高常</tspan><tspan x="534" dy="16.5">规教学和教改教研水平，以保证教学效果且稳</tspan><tspan x="534" dy="16.5">步提高。本学期除了完成下级主管部门、学校</tspan><tspan x="534" dy="16.5">的学习任务之外，还要通过报刊、网络学习专</tspan><tspan x="534" dy="16.5">业知识，提高自己的能力。另外积极参加各类</tspan><tspan x="534" dy="16.5">教科研，积极撰写教学论文、认真进行教学反</tspan><tspan x="534" dy="16.5">思，提高自己的教研能力。</tspan></text></g>
<g id="b5-4b"><rect class="b" x="528" y="5472" width="268" height="77" rx="5"/><text class="t" x="534" y="5490">2、认真落实三精心教学。做到精心备好每节<tspan x="534" dy="16.5">课，精心下好每节课，精心辅导好每个学生。</tspan><tspan x="534" dy="16.5">反复研究高考考纲，把握每个知识点的广度、</tspan><tspan x="534" dy="16.5">难度和深度，使基础教学落到实处。</tspan></text></g>
<g id="b5-4c"><rect class="b" x="528" y="5579" width="268" height="126.5" rx="5"/><text class="t" x="534" y="5597">3、采取灵活生动的教学方式，努力调动学生<tspan x="534" dy="16.5">的学习积极性。根据高考需要和生物学教学特</tspan><tspan x="534" dy="16.5">点，课堂教学多联系现代科技成果、生产生活</tspan><tspan x="534" dy="16.5">实际，这样既能调动学生学习生物的积极性，</tspan><tspan x="534" dy="16.5">又能培养学生发现问题、分析问题和解决问题</tspan><tspan x="534" dy="16.5">的能力，学以致用，有利于学生素质的全面发</tspan><tspan x="534" dy="16.5">展。</tspan></text></g>
<g id="b5-4d"><rect class="b" x="528" y="5735" width="268" height="93.5" rx="5"/><text class="t" x="534" y="5753">4、做好章节过关和段考、期考考试工作。根<tspan x="534" dy="16.5">据高考生物试题的特点，精选章节过关练习题</tspan><tspan x="534" dy="16.5">。在注重基础的前提下，加强学生语言表达能</tspan><tspan x="534" dy="16.5">力、实验设计能力和知识迁移能力的训练，以</tspan><tspan x="534" dy="16.5">适应高考的需要。</tspan></text></g>
<g id="b5-4e"><rect class="b" x="528" y="5857" width="268" height="44" rx="5"/><text class="t" x="534" y="5875">5、根据教研室下发的教学进度灵活处理尽量<tspan x="534" dy="16.5">不给学生拉下一节课。</tspan></text></g>

<!-- Branch 2 -->
<g id="b2"><rect class="b" x="1535" y="2122" width="207" height="38" rx="19"/><text class="bt" x="1638.5" y="2147" text-anchor="middle">高二下册生物教学计划2</text></g>
<g id="b2-0"><rect class="b" x="1766" y="1429" width="268" height="159.5" rx="5"/><text class="t" x="1772" y="1447">生物学与人类的生活，与工农业生产，与其他<tspan x="1772" dy="16.5">自然科学的发展，都有密切的关系。生物学在</tspan><tspan x="1772" dy="16.5">实现我国的社会主义现代化建设中，有着重要</tspan><tspan x="1772" dy="16.5">的作用。生物课是高级中学开设的一门基础课</tspan><tspan x="1772" dy="16.5">程。生物课要贯彻"教育要面向现代化，面向</tspan><tspan x="1772" dy="16.5">世界，面向未来"的精神，使学生掌握生物学</tspan><tspan x="1772" dy="16.5">基础知识和基本技能，培养学习生物学的兴趣</tspan><tspan x="1772" dy="16.5">和能力，为他们进一步学习文化科学知识，参</tspan><tspan x="1772" dy="16.5">加社会主义现代化建设，打下必要的基础。</tspan></text></g>
<g id="b2-1"><rect class="b" x="1766" y="1764" width="115" height="28" rx="5"/><text class="t" x="1772" y="1782.5">一、教学目的要求</text></g>
<g id="b2-1a"><rect class="b" x="1905" y="1617" width="268" height="77" rx="5"/><text class="t" x="1911" y="1635">(一)要求学生比较系统地掌握关于细胞、生物<tspan x="1911" dy="16.5">的新陈代谢、生物的生殖和发育、生命活动的</tspan><tspan x="1911" dy="16.5">调节、遗传和变异等方面的基础知识，以及这</tspan><tspan x="1911" dy="16.5">些知识在农业、医药、工业、国防上的应用。</tspan></text></g>
<g id="b2-1b"><rect class="b" x="1905" y="1723" width="268" height="44" rx="5"/><text class="t" x="1911" y="1741">(二)通过生物学基础知识的学习，使学生受到<tspan x="1911" dy="16.5">辩证唯物主义和爱国主义思想的教育。</tspan></text></g>
<g id="b2-1c"><rect class="b" x="1905" y="1797" width="268" height="44" rx="5"/><text class="t" x="1911" y="1815">(三)要求学生掌握使用高倍显微镜，做简单的<tspan x="1911" dy="16.5">生理实验等的基本技能。</tspan></text></g>
<g id="b2-1d"><rect class="b" x="1905" y="1870" width="268" height="60.5" rx="5"/><text class="t" x="1911" y="1888">(四)培养学生自学生物学知识的能力，观察动<tspan x="1911" dy="16.5">植物的生活习性、形态结构、生殖发育的能力</tspan><tspan x="1911" dy="16.5">，分析和解释一些生物现象的初步能力。</tspan></text></g>
<g id="b2-2"><rect class="b" x="1766" y="2257" width="154" height="28" rx="5"/><text class="t" x="1772" y="2275.5">二、确定教学内容的原则</text></g>
<g id="b2-2a"><rect class="b" x="1944" y="1959" width="268" height="126.5" rx="5"/><text class="t" x="1950" y="1977">(一)从学生今后进一步学习和参加社会主义现<tspan x="1950" dy="16.5">代化建设的需要出发，认真选取生物学基础知</tspan><tspan x="1950" dy="16.5">识：选取生物的结构和生理的知识。结构知识</tspan><tspan x="1950" dy="16.5">是理解生理知识的基础。生理知识是阐明生物</tspan><tspan x="1950" dy="16.5">的新陈代谢，生长、发育和生殖等的基础知识</tspan><tspan x="1950" dy="16.5">。因此，必须重视选取形态结构和生理的知识</tspan><tspan x="1950" dy="16.5">。</tspan></text></g>
<g id="b2-2b"><rect class="b" x="1944" y="2262" width="268" height="44" rx="5"/><text class="t" x="1950" y="2280">(二)选取生物学基础知识，必须做到理论密切<tspan x="1950" dy="16.5">联系实际。</tspan></text></g>
<g id="b2-2c"><rect class="b" x="1944" y="2499" width="268" height="44" rx="5"/><text class="t" x="1950" y="2517">(三)适当选取反映现代生物科学水平的生物学<tspan x="1950" dy="16.5">基础知识。</tspan></text></g>
<g id="b2-2b1"><rect class="b" x="2236" y="2115" width="268" height="93.5" rx="5"/><text class="t" x="2242" y="2133">1.选取生物学基础知识，要密切联系农业生<tspan x="2242" dy="16.5">产实际。生物学是农业科学的基础，是农业</tspan><tspan x="2242" dy="16.5">实践的理论基础。选取的生物学知识，要使</tspan><tspan x="2242" dy="16.5">学生知道生物学在农业生产上的应用，为利</tspan><tspan x="2242" dy="16.5">用和改造有益生物，控制有害生物打下基础。</tspan></text></g>
<g id="b2-2b2"><rect class="b" x="2236" y="2238" width="268" height="110" rx="5"/><text class="t" x="2242" y="2256">2.要密切联系各地实际。我国疆域辽阔、地域<tspan x="2242" dy="16.5">广大，各地的自然条件和生物种类不同，所以</tspan><tspan x="2242" dy="16.5">选取的植物和动物，以及讲解的生物学规律必</tspan><tspan x="2242" dy="16.5">须尽可能是各地普遍存在的，使学生能够直</tspan><tspan x="2242" dy="16.5">接观察到这些生物现象，更好地理解生物学</tspan><tspan x="2242" dy="16.5">规律。</tspan></text></g>
<g id="b2-2b3"><rect class="b" x="2236" y="2377" width="268" height="60.5" rx="5"/><text class="t" x="2242" y="2395">3.选取的生物学基础知识，要密切联系学生的<tspan x="2242" dy="16.5">日常生活实际，使学生感到亲切，容易理</tspan><tspan x="2242" dy="16.5">解，同时更加激发学生学习生物学的兴趣。</tspan></text></g>
<g id="b2-2c1"><rect class="b" x="2236" y="2467" width="268" height="110" rx="5"/><text class="t" x="2242" y="2485">现代生物科学发展很快，为了使学生了解现<tspan x="2242" dy="16.5">代生物科学的新成就，教材中要有选择、适当</tspan><tspan x="2242" dy="16.5">地增加反映现代生物科学水平的知识，以扩大</tspan><tspan x="2242" dy="16.5">学生对生物科学发展的视野，激发学习兴趣，</tspan><tspan x="2242" dy="16.5">为他们进一步学习现代科学技术和从事现代</tspan><tspan x="2242" dy="16.5">农业生产打下基础。</tspan></text></g>
<g id="b2-3"><rect class="b" x="1766" y="2629" width="115" height="28" rx="5"/><text class="t" x="1772" y="2647.5">三、班级现状分析</text></g>
<g id="b2-3a"><rect class="b" x="1905" y="2605" width="268" height="77" rx="5"/><text class="t" x="1911" y="2623">本学期我任教高二164、166、169、170四<tspan x="1911" dy="16.5">个班级，虽然通过班主任，我对个班的现状有</tspan><tspan x="1911" dy="16.5">了一点了解，但由于生物是从高二开始的起始</tspan><tspan x="1911" dy="16.5">课程，所以具体情况还不能下定论。</tspan></text></g>
<g id="b2-4"><rect class="b" x="1766" y="2761" width="115" height="28" rx="5"/><text class="t" x="1772" y="2779.5">四、教学进度安排</text></g>
<g id="b2-4a"><rect class="b" x="1905" y="2710" width="268" height="126.5" rx="5"/><text class="t" x="1911" y="2728">高中阶段学习的生物学知识，是在初中生物教<tspan x="1911" dy="16.5">学内容的基础上进行的，但是又有别于初中生</tspan><tspan x="1911" dy="16.5">物的学习。高中生物的学习注重于理解，所以</tspan><tspan x="1911" dy="16.5">要求学生的理解能力要强，本学期的任务是完</tspan><tspan x="1911" dy="16.5">成第二册的学习，也就是遗传和变异、生物的</tspan><tspan x="1911" dy="16.5">进化、生态系统的学习。同时完成帮助学生初</tspan><tspan x="1911" dy="16.5">步掌握好生物课程的学习方法。</tspan></text></g>

<!-- Branch 4 -->
<g id="b4"><rect class="b" x="1533" y="3740" width="207" height="38" rx="19"/><text class="bt" x="1636.5" y="3765" text-anchor="middle">高二下册生物教学计划4</text></g>
<g id="b4-1"><rect class="b" x="1766" y="2883" width="103" height="28" rx="5"/><text class="t" x="1772" y="2901.5">一、指导思想：</text></g>
<g id="b4-1a"><rect class="b" x="1893" y="2866" width="268" height="60.5" rx="5"/><text class="t" x="1899" y="2884">以教材为根本，高中生物课程标准为指导，夯<tspan x="1899" dy="16.5">实基础，活化能力;抓实训练，讲求效果;加强</tspan><tspan x="1899" dy="16.5">协作，优化氛围，努力提高学生成绩。</tspan></text></g>
<g id="b4-2"><rect class="b" x="1766" y="3268" width="103" height="28" rx="5"/><text class="t" x="1772" y="3286.5">二、基本要求：</text></g>
<g id="b4-2a"><rect class="b" x="1893" y="3014" width="149" height="28" rx="5"/><text class="t" x="1899" y="3032.5">(一)立足双基、夯实基础</text></g>
<g id="b4-2a1"><rect class="b" x="2066" y="2956" width="268" height="143" rx="5"/><text class="t" x="2072" y="2974">生物必修3的教学要做到"立足双基、夯实基<tspan x="2072" dy="16.5">础、单元过关、梯度性提高。以基础为主，注</tspan><tspan x="2072" dy="16.5">重书本基础知识的讲解，尽量把每个章节中的</tspan><tspan x="2072" dy="16.5">重点的知识点讲清讲透，配以课堂练习和单元</tspan><tspan x="2072" dy="16.5">练习进行巩固，做到"堂堂清，节节清"夯实理</tspan><tspan x="2072" dy="16.5">论基础，训练学生基本技能，以讲带练，理清</tspan><tspan x="2072" dy="16.5">生物学知识，为全体学生的学业测试打好基础</tspan><tspan x="2072" dy="16.5">，为部分学生选修作准备。</tspan></text></g>
<g id="b4-2b"><rect class="b" x="1893" y="3523" width="110" height="28" rx="5"/><text class="t" x="1899" y="3541.5">(二)改善教学方法</text></g>
<g id="b4-2b1"><rect class="b" x="2027" y="3127" width="264" height="28" rx="5"/><text class="t" x="2033" y="3145.5">1、按照学校教学常规，认真开展各项活动。</text></g>
<g id="b4-2b2"><rect class="b" x="2027" y="3184" width="268" height="60.5" rx="5"/><text class="t" x="2033" y="3202">2、按照学校教学要求，深入研究教材教法，<tspan x="2033" dy="16.5">认真备课，把时间花在备课上;认真上好每一</tspan><tspan x="2033" dy="16.5">节课，把效果落实课堂上。</tspan></text></g>
<g id="b4-2b3"><rect class="b" x="2027" y="3273" width="268" height="44" rx="5"/><text class="t" x="2033" y="3291">3、坚持互听课活动，每人每期互听课不少于<tspan x="2033" dy="16.5">20节，不断提高教学水平。</tspan></text></g>
<g id="b4-2b4"><rect class="b" x="2027" y="3347" width="268" height="60.5" rx="5"/><text class="t" x="2033" y="3365">4、每周一次集体备课。备课内容包括下周所<tspan x="2033" dy="16.5">有教学内容，主备人预先备课，人人发言，并</tspan><tspan x="2033" dy="16.5">有记录。</tspan></text></g>
<g id="b4-2b5"><rect class="b" x="2027" y="3436" width="268" height="44" rx="5"/><text class="t" x="2033" y="3454">5、坚持落实组内公开课活动。全员参加学习<tspan x="2033" dy="16.5">，促进教师的专业成长。</tspan></text></g>
<g id="b4-2b6"><rect class="b" x="2027" y="3510" width="268" height="44" rx="5"/><text class="t" x="2033" y="3528">6、做到全组"两统一"，即教学进度统一、教<tspan x="2033" dy="16.5">学内容统一。</tspan></text></g>
<g id="b4-2b7"><rect class="b" x="2027" y="3582" width="268" height="44" rx="5"/><text class="t" x="2033" y="3600">7、同心协力，互帮互学，信息、资料共享，<tspan x="2033" dy="16.5">教学研究气氛浓厚。</tspan></text></g>
<g id="b4-2b8"><rect class="b" x="2027" y="3656" width="268" height="77" rx="5"/><text class="t" x="2033" y="3674">8、注重教学中兴趣、情感和意志等非智力因<tspan x="2033" dy="16.5">素的培养，发挥好非智力因素在教学中的动力</tspan><tspan x="2033" dy="16.5">作用，注意培养学生自主学习习惯，培养学生</tspan><tspan x="2033" dy="16.5">创新精神和实践能力。</tspan></text></g>
<g id="b4-2b9"><rect class="b" x="2027" y="3762" width="268" height="93.5" rx="5"/><text class="t" x="2033" y="3780">9、向课堂要质量。力争上好每一节课，要加<tspan x="2033" dy="16.5">强备课，防止复习中的主观随意性，减少盲目</tspan><tspan x="2033" dy="16.5">性。课堂教学做到：一节课一个中心;抓重点</tspan><tspan x="2033" dy="16.5">带一般。重点知识要抓住基本要素，提高课堂</tspan><tspan x="2033" dy="16.5">效率，再现和归纳知识结构</tspan></text></g>
<g id="b4-2b10"><rect class="b" x="2027" y="3885" width="268" height="93.5" rx="5"/><text class="t" x="2033" y="3903">10、向辅导要质量。一要依据教学目标适当<tspan x="2033" dy="16.5">留作业;二要及时反馈信息，以便发现问题，</tspan><tspan x="2033" dy="16.5">为辅导提供依据;三要及时辅导，巩固课堂教</tspan><tspan x="2033" dy="16.5">学成果，另外要结合各类过关考试，进行考后</tspan><tspan x="2033" dy="16.5">分类辅导推进。</tspan></text></g>
<g id="b4-3"><rect class="b" x="1766" y="4195" width="205" height="28" rx="5"/><text class="t" x="1772" y="4213.5">三、本学期教学的总体目标及要求</text></g>
<g id="b4-3a"><rect class="b" x="1995" y="4007" width="268" height="44" rx="5"/><text class="t" x="2001" y="4025">1、用学过的知识和专业术语，正确描述基本<tspan x="2001" dy="16.5">的生物学现象、概念和原理。</tspan></text></g>
<g id="b4-3b"><rect class="b" x="1995" y="4080" width="268" height="60.5" rx="5"/><text class="t" x="2001" y="4098">2、初步学会理解、分析生物学中以图表、图<tspan x="2001" dy="16.5">解等表达的内容和意义，并能用图表等多种表</tspan><tspan x="2001" dy="16.5">达形式准确地描述生物学现象和实现结果。</tspan></text></g>
<g id="b4-3c"><rect class="b" x="1995" y="4170" width="268" height="60.5" rx="5"/><text class="t" x="2001" y="4188">3、了解生物体的结构与功能、部分与整体及<tspan x="2001" dy="16.5">生物与环境的关系，并能理解生物个体、环境</tspan><tspan x="2001" dy="16.5">和社会生活中的一些生物学的问题。</tspan></text></g>
<g id="b4-3d"><rect class="b" x="1995" y="4259" width="268" height="77" rx="5"/><text class="t" x="2001" y="4277">4、了解所学实验的实验内容、包括实验原理<tspan x="2001" dy="16.5">、方法和操作步骤，掌握相关的操作技能;具</tspan><tspan x="2001" dy="16.5">备验证简单生物学事实的能力;理解探索性实</tspan><tspan x="2001" dy="16.5">验的一般方法</tspan></text></g>
<g id="b4-3e"><rect class="b" x="1995" y="4365" width="268" height="44" rx="5"/><text class="t" x="2001" y="4383">5、了解生命科学发展中的重大热点问题及其<tspan x="2001" dy="16.5">对科学和社会发展的影响和意义。</tspan></text></g>
<g id="b4-4"><rect class="b" x="1766" y="4439" width="89" height="28" rx="5"/><text class="t" x="1772" y="4457.5">四、参考资料</text></g>
<g id="b4-4a"><rect class="b" x="1880" y="4439" width="264" height="28" rx="5"/><text class="t" x="1886" y="4457.5">《45分课堂作业》、《生物必修3同步导学》</text></g>
<g id="b4-5"><rect class="b" x="1766" y="4609" width="242" height="28" rx="5"/><text class="t" x="1772" y="4627.5">五、建议生物教师在教学中做到以下几点</text></g>
<g id="b4-5a"><rect class="b" x="2033" y="4495" width="148" height="28" rx="5"/><text class="t" x="2039" y="4513.5">1、引导学生读书背书。</text></g>
<g id="b4-5b"><rect class="b" x="2033" y="4552" width="160" height="28" rx="5"/><text class="t" x="2039" y="4570.5">2、树立生物学基本思想。</text></g>
<g id="b4-5c"><rect class="b" x="2033" y="4609" width="251" height="28" rx="5"/><text class="t" x="2039" y="4627.5">3、注重学法指导，培养学生的自学能力。</text></g>
<g id="b4-5d"><rect class="b" x="2033" y="4665" width="148" height="28" rx="5"/><text class="t" x="2039" y="4683.5">4、教给学生一点联想。</text></g>
<g id="b4-5e"><rect class="b" x="2033" y="4722" width="230" height="28" rx="5"/><text class="t" x="2039" y="4740.5">5、有选择的精做、精批、精讲习题。</text></g>

<!-- Branch 6 -->
<g id="b6"><rect class="b" x="1530" y="5030" width="285" height="38" rx="19"/><text class="bt" x="1672.5" y="5055" text-anchor="middle">高二下册生物教学计划相关文章：</text></g>
<g id="b6-1"><rect class="b" x="1839" y="4780" width="218" height="28" rx="5"/><text class="t" x="1845" y="4798.5">★ 新课标高二下册生物教学计划方案</text></g>
<g id="b6-2"><rect class="b" x="1839" y="4836" width="182" height="28" rx="5"/><text class="t" x="1845" y="4854.5">★ 高二生物教学计划范本10篇</text></g>
<g id="b6-3"><rect class="b" x="1839" y="4893" width="213" height="28" rx="5"/><text class="t" x="1845" y="4911.5">★ 高中生物必修二生物教学计划5篇</text></g>
<g id="b6-4"><rect class="b" x="1839" y="4950" width="200" height="28" rx="5"/><text class="t" x="1845" y="4968.5">★ 高三下册生物教学计划模板5篇</text></g>
<g id="b6-5"><rect class="b" x="1839" y="5007" width="149" height="28" rx="5"/><text class="t" x="1845" y="5025.5">★ 高二下期生物教案5篇</text></g>
<g id="b6-6"><rect class="b" x="1839" y="5064" width="209" height="28" rx="5"/><text class="t" x="1845" y="5082.5">★ 高二年级生物实验教学计划2021</text></g>
<g id="b6-7"><rect class="b" x="1839" y="5120" width="197" height="28" rx="5"/><text class="t" x="1845" y="5138.5">★ 人教版高二生物教学计划2021</text></g>
<g id="b6-8"><rect class="b" x="1839" y="5177" width="213" height="28" rx="5"/><text class="t" x="1845" y="5195.5">★ 八年级下册生物教学计划范文5篇</text></g>
<g id="b6-9"><rect class="b" x="1839" y="5233" width="226" height="28" rx="5"/><text class="t" x="1845" y="5251.5">★ 八年级下学期生物课堂教学计划5篇</text></g>
<g id="b6-10"><rect class="b" x="1839" y="5290" width="213" height="28" rx="5"/><text class="t" x="1845" y="5308.5">★ 关于高二生物理论课教学计划5篇</text></g>
</g>
</svg>
